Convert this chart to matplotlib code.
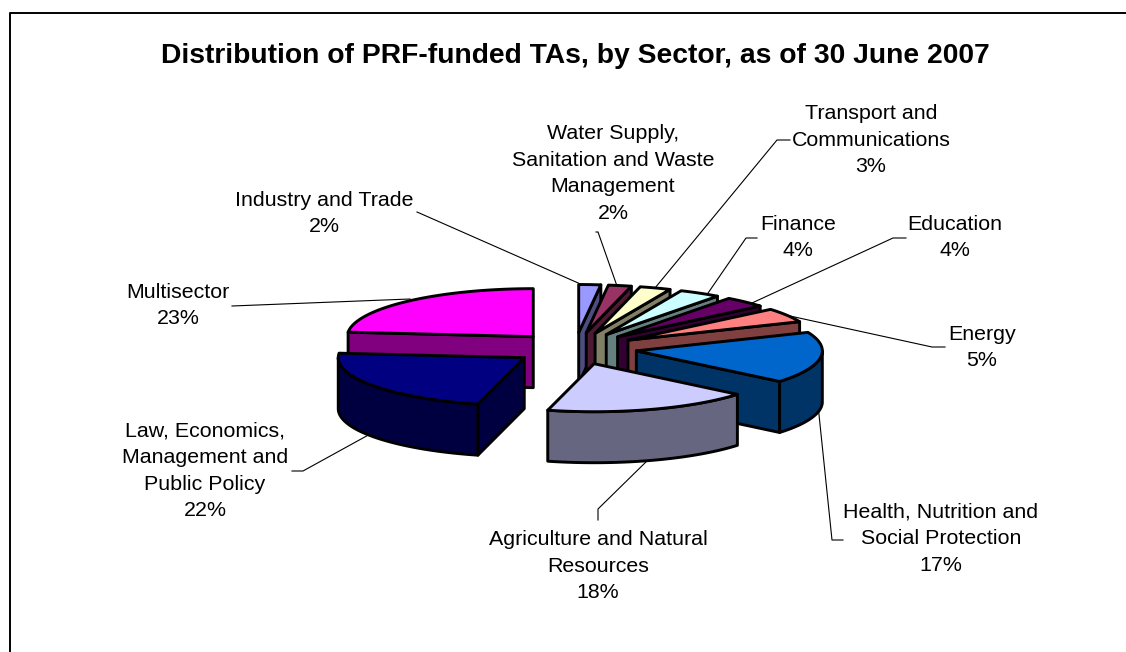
import numpy as np
import matplotlib
matplotlib.use("Agg")
import matplotlib.pyplot as plt

plt.rcParams['font.family'] = ['Liberation Sans', 'DejaVu Sans']

# slices run clockwise from 12 o'clock
sectors = ["Industry and Trade", "Water Supply,\nSanitation and Waste\nManagement",
           "Transport and\nCommunications", "Finance", "Education", "Energy",
           "Health, Nutrition and\nSocial Protection", "Agriculture and Natural\nResources",
           "Law, Economics,\nManagement and\nPublic Policy", "Multisector"]
shares = [1.9, 2.0, 2.7, 3.6, 3.7, 4.8, 17.3, 18.0, 22.49, 23.49]
top_colors = ["#9999FF", "#993366", "#FFFFCC", "#CCFFFF", "#660066",
              "#FF8080", "#0066CC", "#CCCCFF", "#000080", "#FF00FF"]
side_colors = ["#4D4D80", "#4D1A33", "#808066", "#668080", "#330033",
               "#804040", "#003366", "#666680", "#000040", "#800080"]

# label centre and leader path, in pixels
label_pos = [(324, 213.5), (613, 173.5), (871, 140), (798, 237.5), (955, 237.5),
             (982, 347.5), (941, 539), (598, 566), (205, 471), (178, 305.5)]
leaders = [[(417, 212), (585, 286)], [(596, 232), (598, 232), (617, 286)],
           [(790, 140), (777, 140), (655, 288)], [(757, 238), (746, 238), (706, 296)],
           [(906, 238), (893, 238), (752, 303)], [(945, 347), (932, 347), (790, 316)],
           [(843, 540), (832, 540), (818, 405)], [(598, 520), (598, 509), (650, 458)],
           [(292, 471), (303, 471), (372, 433)], [(232, 306), (410, 299)]]

cx, cy = 575, 348.5     # pie centre in pixels
rx, ry = 186, 48        # ellipse of the top face
depth = 51
explode = 1 / 3
edge_w = 2.1

fig = plt.figure(figsize=(11.26, 6.52), dpi=100)
ax = fig.add_axes([0, 0, 1, 1])
ax.set_xlim(0, 1126)
ax.set_ylim(652, 0)
ax.axis("off")

# chart frame, only left and top are inside the picture
ax.plot([9.5, 9.5, 1126], [652, 12.5, 12.5], color="black", lw=1.4, zorder=1)

ax.text(575.5, 56, "Distribution of PRF-funded TAs, by Sector, as of 30 June 2007",
        fontsize=20.3, fontweight="bold", ha="center", va="center")

for path in leaders:
    ax.plot([p[0] for p in path], [p[1] for p in path], color="black", lw=0.8, zorder=2)

edges = np.radians(np.cumsum([0] + shares) / sum(shares) * 360)

def arc(a0, a1, ox, oy):
    t = np.linspace(a0, a1, 80)
    return ox + rx * np.sin(t), oy - ry * np.cos(t)

mids = (edges[:-1] + edges[1:]) / 2
# paint back slices first
order = np.argsort([cy - explode * ry * np.cos(m) - 0.001 * i for i, m in enumerate(mids)])
z = 3
for i in order:
    a0, a1 = edges[i], edges[i + 1]
    ox = cx + explode * rx * np.sin(mids[i])
    oy = cy - explode * ry * np.cos(mids[i])
    style = dict(edgecolor="black", linewidth=edge_w, joinstyle="round", zorder=z)

    # cut faces that look towards the viewer
    for a, seen in ((a0, np.sin(a0) < -1e-6), (a1, np.sin(a1) > 1e-6)):
        if seen:
            ex = ox + rx * np.sin(a)
            ey = oy - ry * np.cos(a)
            ax.fill([ox, ex, ex, ox], [oy, ey, ey + depth, oy + depth],
                    facecolor=side_colors[i], **style)

    # front part of the rim
    lo, hi = max(a0, np.pi / 2), min(a1, 3 * np.pi / 2)
    if lo < hi:
        x, y = arc(lo, hi, ox, oy)
        ax.fill(np.r_[x, x[::-1]], np.r_[y, y[::-1] + depth],
                facecolor=side_colors[i], **style)

    x, y = arc(a0, a1, ox, oy)
    ax.fill(np.r_[ox, x], np.r_[oy, y], facecolor=top_colors[i], **style)
    z += 1

for name, share, pos in zip(sectors, shares, label_pos):
    ax.text(pos[0], pos[1], name + "\n%d%%" % round(share), fontsize=15.4, ha="center",
            va="center", linespacing=1.51, multialignment="center", zorder=30)

fig.savefig("out.png", dpi=100, facecolor="white")
